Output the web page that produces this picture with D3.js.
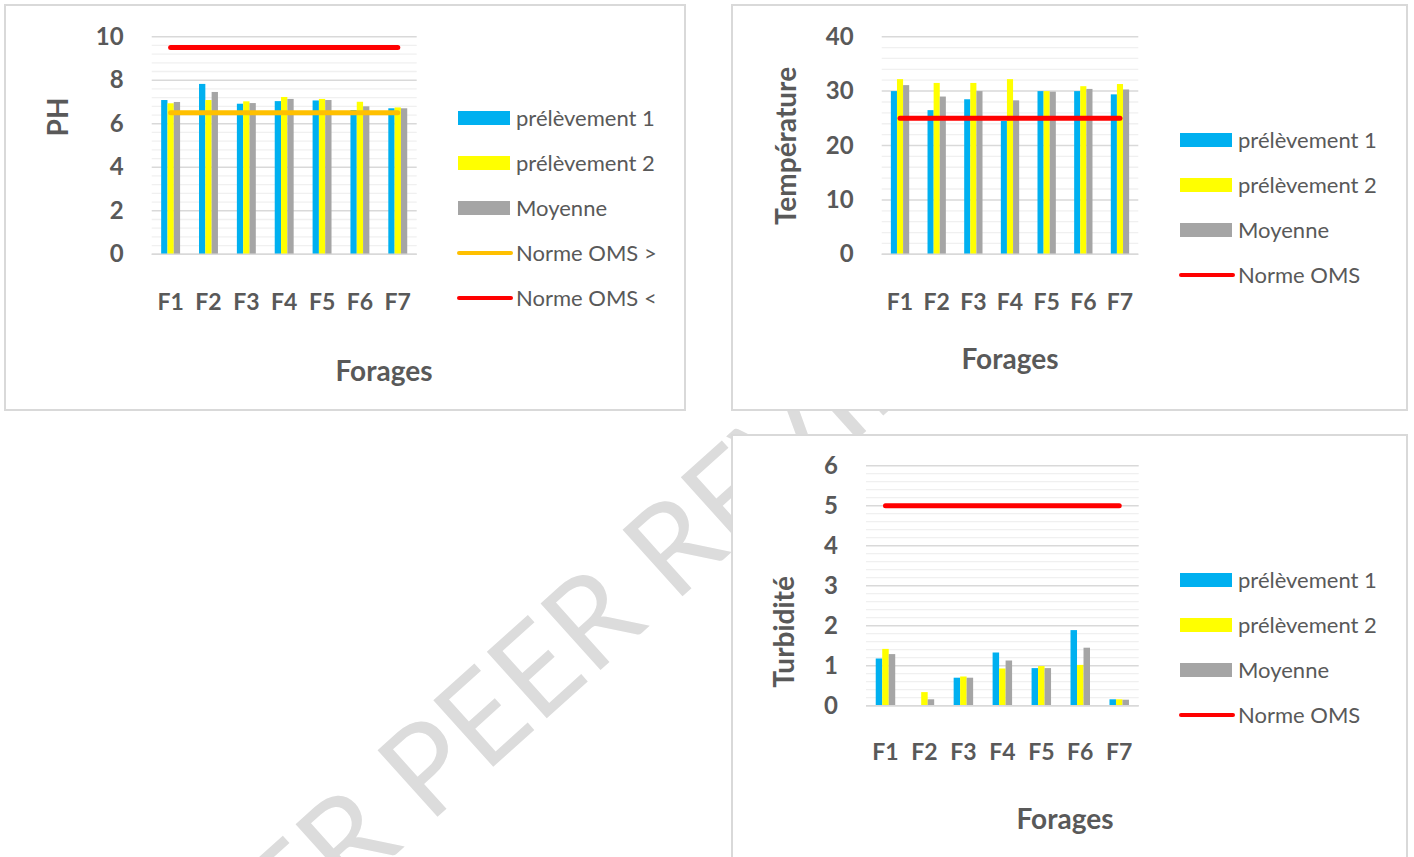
<!DOCTYPE html>
<html><head><meta charset="utf-8">
<script src="https://cdn.jsdelivr.net/npm/d3@7"></script>
<style>
body{margin:0;background:#fff}
svg{display:block}
text{font-family:Lato,'Open Sans',sans-serif}
</style>
</head><body>
<svg id="c" width="1414" height="857"></svg>
<script>
// ---------- DATA ----------
const categories = ["F1","F2","F3","F4","F5","F6","F7"];
const seriesNames = ["prélèvement 1","prélèvement 2","Moyenne"];

const phP1  = [7.09,7.83,6.92,7.04,7.07,6.63,6.71];
const phP2  = [6.94,7.09,7.03,7.23,7.14,7.01,6.75];
const phMoy = [7.00,7.46,6.95,7.14,7.09,6.80,6.71];
const phNormeSup = [6.5,6.5,6.5,6.5,6.5,6.5,6.5];   // Norme OMS >
const phNormeInf = [9.5,9.5,9.5,9.5,9.5,9.5,9.5];   // Norme OMS <
const phTicks = [0,2,4,6,8,10];

const tempP1  = [30.0,26.5,28.5,24.5,30.0,30.0,29.4];
const tempP2  = [32.2,31.5,31.5,32.2,30.0,30.9,31.3];
const tempMoy = [31.1,29.0,30.0,28.3,29.9,30.4,30.3];
const tempNorme = [25,25,25,25,25,25,25];
const tempTicks = [0,10,20,30,40];

const turbP1  = [1.18,0.00,0.70,1.33,0.94,1.89,0.16];
const turbP2  = [1.42,0.34,0.73,0.93,0.99,1.02,0.16];
const turbMoy = [1.29,0.16,0.70,1.13,0.94,1.45,0.15];
const turbNorme = [5,5,5,5,5,5,5];
const turbTicks = [0,1,2,3,4,5,6];

const xTitle = "Forages";
const watermark = "UNDER PEER REVIEW";

// ---------- STYLE ----------
const barColors = ["#00b0f0","#ffff00","#a5a5a5"];
const textColor = "#595959";

const svg = d3.select("#c");

// watermark (behind panels)
svg.append("text")
  .attr("transform","translate(554,712) rotate(-42)")
  .attr("text-anchor","middle")
  .attr("font-size",125)
  .attr("fill","#dcdcdc")
  .text(watermark);

function chart(o){
  const g = svg.append("g");
  g.append("rect")
    .attr("x",o.panel[0]).attr("y",o.panel[1])
    .attr("width",o.panel[2]).attr("height",o.panel[3])
    .attr("fill","#fff").attr("stroke","#d9d9d9").attr("stroke-width",2);

  const y = d3.scaleLinear().domain([0,o.max]).range([o.bottom,o.top]);
  const x0 = d3.scaleBand().domain(categories).range([o.left,o.right])
    .paddingInner(0.5).paddingOuter(0.25);
  const x1 = d3.scaleBand().domain(seriesNames).range([0,x0.bandwidth()]);

  // minor grid
  const minors = d3.range(o.minor, o.max + 1e-9, o.minor)
    .filter(v => Math.abs(v/o.major - Math.round(v/o.major)) > 1e-6);
  g.append("g").selectAll("line").data(minors).join("line")
    .attr("x1",o.left).attr("x2",o.right)
    .attr("y1",d=>y(d)).attr("y2",d=>y(d))
    .attr("stroke","#f0f0f0").attr("stroke-width",1.3);
  // major grid
  g.append("g").selectAll("line").data(o.ticks).join("line")
    .attr("x1",o.left).attr("x2",o.right)
    .attr("y1",d=>y(d)).attr("y2",d=>y(d))
    .attr("stroke","#d9d9d9").attr("stroke-width",1.5);

  // y axis
  const ya = g.append("g").attr("transform",`translate(${o.left},0)`)
    .call(d3.axisLeft(y).tickValues(o.ticks).tickSize(0).tickPadding(28).tickFormat(d3.format("d")));
  ya.select(".domain").remove();
  ya.selectAll("text").attr("font-size",24).attr("font-weight","bold")
    .attr("fill",textColor).style("font-family","Lato");

  // bars
  o.series.forEach((vals,si)=>{
    g.append("g").selectAll("rect").data(vals).join("rect")
      .attr("x",(d,i)=>x0(categories[i]) + x1(seriesNames[si]))
      .attr("width",x1.bandwidth())
      .attr("y",d=>y(d))
      .attr("height",d=>y(0)-y(d))
      .attr("fill",barColors[si]);
  });

  // lines
  const lineGen = d3.line()
    .x((d,i)=>x0(categories[i]) + x0.bandwidth()/2)
    .y(d=>y(d));
  o.lines.forEach(l=>{
    g.append("path").datum(l.values)
      .attr("d",lineGen).attr("fill","none")
      .attr("stroke",l.color).attr("stroke-width",5)
      .attr("stroke-linecap","round");
  });

  // x axis labels
  const xa = g.append("g").attr("transform",`translate(0,${o.bottom})`)
    .call(d3.axisBottom(x0).tickSize(0));
  xa.select(".domain").attr("stroke","#d9d9d9").attr("stroke-width",1.5)
    .attr("d",`M${o.left},0H${o.right}`);
  xa.selectAll("text").attr("y",o.catBase - o.bottom).attr("dy",0)
    .attr("font-size",23).attr("font-weight","bold")
    .attr("fill",textColor).style("font-family","Lato");

  // titles
  g.append("text").attr("x",o.xTitle[0]).attr("y",o.xTitle[1])
    .attr("text-anchor","middle").attr("font-size",28).attr("font-weight","bold")
    .attr("fill",textColor).text(xTitle);
  g.append("text")
    .attr("transform",`translate(${o.yTitle[0]},${o.yTitle[1]}) rotate(-90)`)
    .attr("text-anchor","middle").attr("font-size",28).attr("font-weight","bold")
    .attr("fill",textColor).text(o.yLabel);

  // legend
  const lg = g.append("g");
  o.legend.forEach((e,i)=>{
    const cy = o.legY + i*45;
    if(e.type==="bar"){
      lg.append("rect").attr("x",o.legX).attr("y",cy-7).attr("width",52).attr("height",14)
        .attr("fill",e.color);
    } else {
      lg.append("line").attr("x1",o.legX+1).attr("x2",o.legX+53).attr("y1",cy).attr("y2",cy)
        .attr("stroke",e.color).attr("stroke-width",4).attr("stroke-linecap","round");
    }
    lg.append("text").attr("x",o.legX+58).attr("y",cy).attr("dy","0.35em")
      .attr("font-size",22).attr("fill",textColor).text(e.label);
  });
}

const barLegend = seriesNames.map((n,i)=>({type:"bar",color:barColors[i],label:n}));

chart({
  panel:[5,5,680,405], left:151.7, right:416.7, top:36.7, bottom:254.3,
  max:10, major:2, minor:0.4, ticks:phTicks,
  series:[phP1,phP2,phMoy],
  lines:[{values:phNormeSup,color:"#ffc000"},{values:phNormeInf,color:"#ff0000"}],
  catBase:310, xTitle:[384,381], yTitle:[68,117], yLabel:"PH",
  legX:458, legY:118,
  legend: barLegend.concat([{type:"line",color:"#ffc000",label:"Norme OMS >"},
                            {type:"line",color:"#ff0000",label:"Norme OMS <"}])
});

chart({
  panel:[732,5,675,405], left:881.7, right:1138.3, top:36.7, bottom:254.3,
  max:40, major:10, minor:2, ticks:tempTicks,
  series:[tempP1,tempP2,tempMoy],
  lines:[{values:tempNorme,color:"#ff0000"}],
  catBase:310, xTitle:[1010,369], yTitle:[796,146], yLabel:"Température",
  legX:1180, legY:140,
  legend: barLegend.concat([{type:"line",color:"#ff0000",label:"Norme OMS"}])
});

chart({
  panel:[732,435,675,440], left:866, right:1138.7, top:465.7, bottom:705.7,
  max:6, major:1, minor:0.2, ticks:turbTicks,
  series:[turbP1,turbP2,turbMoy],
  lines:[{values:turbNorme,color:"#ff0000"}],
  catBase:760, xTitle:[1065,829], yTitle:[794,632], yLabel:"Turbidité",
  legX:1180, legY:580,
  legend: barLegend.concat([{type:"line",color:"#ff0000",label:"Norme OMS"}])
});
</script>
</body></html>
